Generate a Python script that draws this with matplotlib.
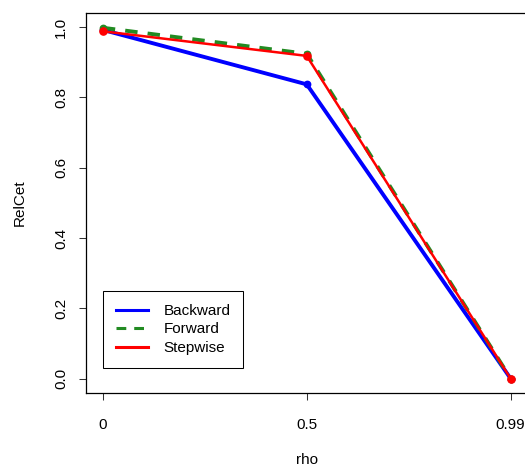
import numpy as np
import matplotlib
matplotlib.use("Agg")
from matplotlib import pyplot as plt

# relative efficiency per selection method, for each rho
rho_labels = ["0", "0.5", "0.99"]
backward = [0.992, 0.837, 0.0]
forward = [0.998, 0.924, 0.0]
stepwise = [0.988, 0.918, 0.0]

plt.rcParams['font.family'] = ['Liberation Sans', 'DejaVu Sans']
fs = 11

fig = plt.figure(figsize=(5.25, 4.7), dpi=100)
ax = fig.add_axes([86.5 / 525, 77.3 / 470, 440.5 / 525, 379.7 / 470])

x = np.arange(1, len(rho_labels) + 1)
ax.plot(x, backward, color='blue', lw=2.8, marker='o', ms=4.6, label='Backward')
ax.plot(x, forward, color='#228B22', lw=2.8, ls=(0, (3.2, 2.6)), marker='o', ms=4.6,
        label='Forward')
ax.plot(x, stepwise, color='red', lw=1.8, marker='o', ms=5.2, label='Stepwise')

ax.set_xlim(0.92, 3.08)
ax.set_ylim(-0.04, 1.04)
ax.set_xticks(x)
ax.set_xticklabels(rho_labels)
ax.set_yticks([0.0, 0.2, 0.4, 0.6, 0.8, 1.0])
ax.set_yticklabels(["0.0", "0.2", "0.4", "0.6", "0.8", "1.0"], rotation=90, va='center')
ax.tick_params(axis='both', length=5.2, width=0.75, labelsize=fs, color='#333333')
ax.tick_params(axis='x', pad=13)
ax.tick_params(axis='y', pad=8)
for s in ax.spines.values():
    s.set_linewidth(0.9)

ax.set_xlabel("rho", fontsize=fs, labelpad=15)
ax.set_ylabel("RelCet", fontsize=fs, labelpad=20)

leg = ax.legend(loc='lower left', bbox_to_anchor=(0.0375, 0.065), borderaxespad=0,
                fontsize=fs, fancybox=False, edgecolor='black', framealpha=1,
                handlelength=2.1, handletextpad=1.0, borderpad=0.85, labelspacing=0.3)
leg.get_frame().set_linewidth(0.75)
for h in leg.get_lines():
    h.set_linewidth(2.2)
    h.set_marker('')

fig.savefig("out.png", dpi=100)
